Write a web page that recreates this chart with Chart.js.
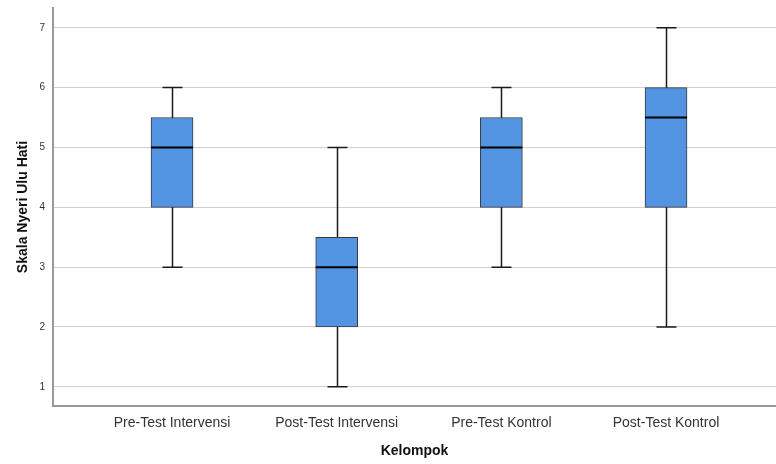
<!DOCTYPE html>
<html>
<head>
<meta charset="utf-8">
<script src="https://cdn.jsdelivr.net/npm/chart.js@4"></script>
<style>
  body { margin: 0; background: #fff; }
</style>
</head>
<body>
<canvas id="boxChart" width="776" height="464"></canvas>
<script>
const categories = ['Pre-Test Intervensi', 'Post-Test Intervensi', 'Pre-Test Kontrol', 'Post-Test Kontrol'];
const minValues = [3, 1, 3, 2];
const q1Values = [4, 2, 4, 4];
const medianValues = [5, 3, 5, 5.5];
const q3Values = [5.5, 3.5, 5.5, 6];
const maxValues = [6, 5, 6, 7];
const yTicks = [1, 2, 3, 4, 5, 6, 7];

const FONT = "'Liberation Sans', Arial, sans-serif";

// whiskers, caps and the median line drawn through the chart's scales
const boxExtras = {
    id: 'boxExtras',
    beforeDatasetsDraw(chart) {
        const ctx = chart.ctx;
        const xs = chart.scales.x, ys = chart.scales.y;
        ctx.save();
        ctx.strokeStyle = '#1a1a1a';
        ctx.lineWidth = 1.5;
        categories.forEach((c, i) => {
            const x = Math.round(xs.getPixelForValue(i + 1)) + 0.5;
            const yMin = ys.getPixelForValue(minValues[i]);
            const yMax = ys.getPixelForValue(maxValues[i]);
            ctx.beginPath();
            ctx.moveTo(x, yMin);
            ctx.lineTo(x, yMax);
            ctx.moveTo(x - 10, yMin);
            ctx.lineTo(x + 10, yMin);
            ctx.moveTo(x - 10, yMax);
            ctx.lineTo(x + 10, yMax);
            ctx.stroke();
        });
        ctx.restore();
    },
    afterDatasetsDraw(chart) {
        const ctx = chart.ctx;
        const xs = chart.scales.x, ys = chart.scales.y;
        ctx.save();
        ctx.strokeStyle = '#000';
        ctx.lineWidth = 2;
        categories.forEach((c, i) => {
            const x = xs.getPixelForValue(i + 1);
            const y = ys.getPixelForValue(medianValues[i]);
            ctx.beginPath();
            ctx.moveTo(x - 21, y);
            ctx.lineTo(x + 21, y);
            ctx.stroke();
        });
        ctx.restore();
    }
};

new Chart(document.getElementById('boxChart').getContext('2d'), {
    type: 'bar',
    data: {
        datasets: [{
            data: categories.map((c, i) => ({ x: i + 1, y: [q1Values[i], q3Values[i]] })),
            backgroundColor: '#5294e2',
            borderColor: '#3a3a3a',
            borderWidth: 1,
            borderSkipped: false,
            barThickness: 42
        }]
    },
    options: {
        responsive: false,
        animation: false,
        layout: { padding: { top: 8, right: 0, left: 0, bottom: 0 } },
        plugins: { legend: { display: false }, tooltip: { enabled: false } },
        scales: {
            x: {
                type: 'linear',
                offset: false,
                min: 0.277,
                max: 4.668,
                afterBuildTicks: s => { s.ticks = categories.map((c, i) => ({ value: i + 1 })); },
                afterFit: s => { s.height = 58; s.paddingLeft = 0; s.paddingRight = 0; },
                grid: { display: false, drawTicks: false },
                border: { display: true, color: '#999', width: 2 },
                ticks: {
                    padding: 9,
                    color: '#333',
                    font: { family: FONT, size: 14 },
                    callback: v => categories[v - 1]
                },
                title: {
                    display: true,
                    text: 'Kelompok',
                    color: '#111',
                    font: { family: FONT, size: 14, weight: 'bold' },
                    padding: { top: 0, bottom: 4 }
                }
            },
            y: {
                min: 0.68,
                max: 7.33,
                afterBuildTicks: s => { s.ticks = yTicks.map(v => ({ value: v })); },
                afterFit: s => { s.width = 53; s.paddingTop = 0; s.paddingBottom = 0; },
                grid: { color: '#d0d0d0', lineWidth: 1, drawTicks: false },
                border: { display: true, color: '#999', width: 2 },
                ticks: {
                    padding: 8,
                    color: '#333',
                    font: { family: FONT, size: 10 }
                },
                title: {
                    display: true,
                    text: 'Skala Nyeri Ulu Hati',
                    color: '#111',
                    font: { family: FONT, size: 14, weight: 'bold' },
                    padding: { top: 15, bottom: 0 }
                }
            }
        }
    },
    plugins: [boxExtras]
});
</script>
</body>
</html>
